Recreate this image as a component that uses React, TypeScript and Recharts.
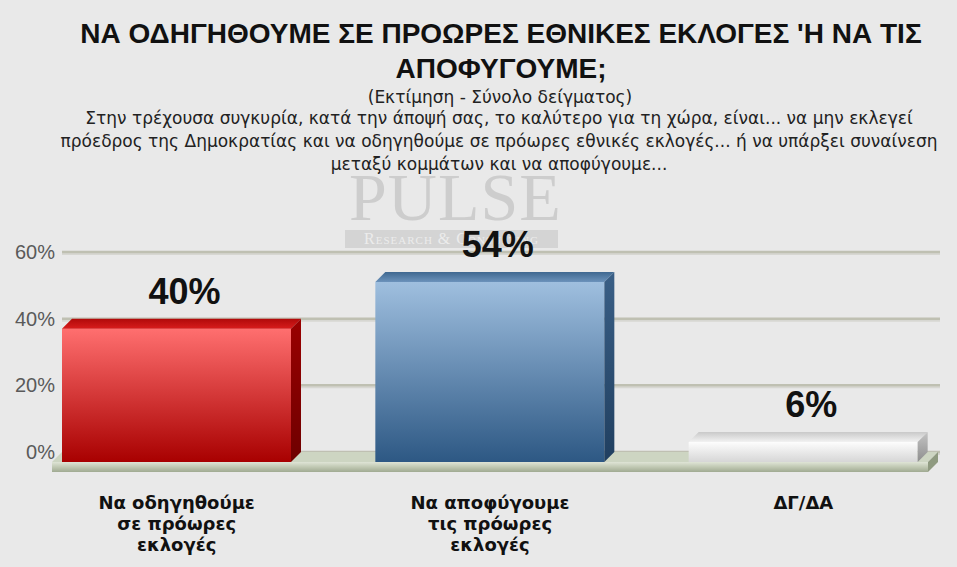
import React from 'react';
import { BarChart, Bar, XAxis, YAxis, CartesianGrid, ReferenceArea, LabelList } from 'recharts';

const categories = ['Να οδηγηθούμε σε πρόωρες εκλογές', 'Να αποφύγουμε τις πρόωρες εκλογές', 'ΔΓ/ΔΑ'];
const categoryLines = [
  ['Να οδηγηθούμε', 'σε πρόωρες', 'εκλογές'],
  ['Να αποφύγουμε', 'τις πρόωρες', 'εκλογές'],
  ['ΔΓ/ΔΑ'],
];
const values = [40, 54, 6];
const yTicks = [0, 20, 40, 60];
const titleLines = ['ΝΑ ΟΔΗΓΗΘΟΥΜΕ ΣΕ ΠΡΟΩΡΕΣ ΕΘΝΙΚΕΣ ΕΚΛΟΓΕΣ \'Η ΝΑ ΤΙΣ', 'ΑΠΟΦΥΓΟΥΜΕ;'];
const subtitle = '(Εκτίμηση - Σύνολο δείγματος)';
const questionLines = [
  'Στην τρέχουσα συγκυρία, κατά την άποψή σας, το καλύτερο για τη χώρα, είναι... να μην εκλεγεί',
  'πρόεδρος της Δημοκρατίας και να οδηγηθούμε σε πρόωρες εθνικές εκλογές... ή να υπάρξει συναίνεση',
  'μεταξύ κομμάτων και να αποφύγουμε...',
];

const palettes = [
  { frontTop: '#ff6f6f', frontBot: '#a80000', top: '#d81c1c', topBack: '#b00a0a', sideTop: '#9a0000', sideBot: '#6e0000' },
  { frontTop: '#9fbfdf', frontBot: '#2d5884', top: '#6b92bb', topBack: '#3f6890', sideTop: '#3a5f86', sideBot: '#203f60' },
  { frontTop: '#fdfdfd', frontBot: '#d6d6d6', top: '#f2f2f2', topBack: '#c9c9c9', sideTop: '#c4c4c4', sideBot: '#8e8e8e' },
];

const data = categories.map((c, i) => ({ name: c, value: values[i] }));

const D = 10;
const SANS = "'Liberation Sans', Arial, sans-serif";
const DEJAVU = "'DejaVu Sans', Verdana, sans-serif";

const Bar3D = (props: any) => {
  const { x, y, width, height, index } = props;
  const p = palettes[index % palettes.length];
  const id = `bar3d-${index}`;
  return (
    <g>
      <defs>
        <linearGradient id={`${id}-f`} x1="0" y1="0" x2="0" y2="1">
          <stop offset="0%" stopColor={p.frontTop} />
          <stop offset="100%" stopColor={p.frontBot} />
        </linearGradient>
        <linearGradient id={`${id}-t`} x1="0" y1="1" x2="0" y2="0">
          <stop offset="0%" stopColor={p.top} />
          <stop offset="100%" stopColor={p.topBack} />
        </linearGradient>
        <linearGradient id={`${id}-s`} x1="0" y1="0" x2="0" y2="1">
          <stop offset="0%" stopColor={p.sideTop} />
          <stop offset="100%" stopColor={p.sideBot} />
        </linearGradient>
      </defs>
      <rect x={x} y={y} width={width} height={height} fill={`url(#${id}-f)`} />
      <polygon
        points={`${x},${y} ${x + width},${y} ${x + width + D},${y - D} ${x + D},${y - D}`}
        fill={`url(#${id}-t)`}
      />
      <polygon
        points={`${x + width},${y} ${x + width + D},${y - D} ${x + width + D},${y + height - D} ${x + width},${y + height}`}
        fill={`url(#${id}-s)`}
      />
    </g>
  );
};

const Floor = (props: any) => {
  const { x, y, width, height } = props;
  const l = x + 32;
  const r = x + width - 32;
  return (
    <g>
      <defs>
        <linearGradient id="floor-front" x1="0" y1="0" x2="0" y2="1">
          <stop offset="0%" stopColor="#dfe4d6" />
          <stop offset="45%" stopColor="#c3cbb6" />
          <stop offset="100%" stopColor="#a0aa92" />
        </linearGradient>
      </defs>
      <polygon points={`${l},${y} ${r},${y} ${r + D},${y - D} ${l + D},${y - D}`} fill="#cdd5c2" />
      <rect x={l} y={y} width={r - l} height={height} fill="url(#floor-front)" />
      <polygon points={`${r},${y} ${r + D},${y - D} ${r + D},${y + height - D} ${r},${y + height}`} fill="#8f9a80" />
    </g>
  );
};

const GridLine = (props: any) => {
  const { x1, x2, y1 } = props;
  const yy = y1 - D;
  return (
    <g>
      <line x1={x1 + 42} x2={x2 - 20} y1={yy + 2} y2={yy + 2} stroke="#d7d7d2" strokeWidth={2} />
      <line x1={x1 + 42} x2={x2 - 20} y1={yy} y2={yy} stroke="#bfc0b2" strokeWidth={2.5} />
    </g>
  );
};

const YTick = (props: any) => {
  const { x, y, payload } = props;
  return (
    <text x={x + 37} y={y - D} dy={7} textAnchor="end" fontFamily={SANS} fontSize={20} fill="#5a5a5a">
      {`${payload.value}%`}
    </text>
  );
};

const XTick = (props: any) => {
  const { x, y, index } = props;
  const lines = categoryLines[index] || [];
  return (
    <text textAnchor="middle" fontFamily={DEJAVU} fontWeight="bold" fontSize={18} fill="#111">
      {lines.map((l, i) => (
        <tspan key={i} x={x} y={y + 39 + i * 21}>{l}</tspan>
      ))}
    </text>
  );
};

const ValueLabel = (props: any) => {
  const { x, y, width, value } = props;
  return (
    <text x={x + width / 2 + 8} y={y - 25} textAnchor="middle" fontFamily={SANS} fontWeight="bold" fontSize={36} fill="#111">
      {`${value}%`}
    </text>
  );
};

export default function App() {
  return (
    <div style={{ position: 'absolute', left: 0, top: 0, width: 957, height: 567, background: '#e9e9e9', overflow: 'hidden' }}>
      <div style={{ position: 'absolute', left: 0, top: 16, width: 1002, textAlign: 'center', fontFamily: SANS, fontWeight: 'bold', fontSize: 28, lineHeight: '35px', color: '#111' }}>
        {titleLines.map((t, i) => <div key={i}>{t}</div>)}
      </div>
      <div style={{ position: 'absolute', left: 0, top: 87, width: 1000, textAlign: 'center', fontFamily: DEJAVU, fontSize: 17, color: '#222' }}>
        {subtitle}
      </div>
      <div style={{ position: 'absolute', left: 0, top: 107, width: 998, textAlign: 'center', fontFamily: DEJAVU, fontSize: 17, lineHeight: '23px', color: '#222' }}>
        {questionLines.map((t, i) => <div key={i}>{t}</div>)}
      </div>
      <div style={{ position: 'absolute', left: 349, top: 158, fontFamily: "'Liberation Serif', serif", fontSize: 68, color: '#cdcdcd', letterSpacing: 1 }}>
        PULSE
      </div>
      <div style={{ position: 'absolute', left: 345, top: 230, width: 213, height: 18, background: '#d4d4d4', color: '#ececec', fontFamily: "'Liberation Serif', serif", fontVariant: 'small-caps', fontSize: 16, lineHeight: '18px', textAlign: 'center', letterSpacing: 1 }}>
        Research &amp; Consulting
      </div>
      <div style={{ position: 'absolute', left: 0, top: 0 }}>
        <BarChart width={957} height={567} data={data} margin={{ top: 262, right: -3, bottom: 0, left: 0 }}>
          <CartesianGrid vertical={false} horizontal={GridLine as any} />
          <XAxis dataKey="name" height={105} axisLine={false} tickLine={false} tick={XTick as any} interval={0} />
          <YAxis width={20} domain={[0, 60]} ticks={yTicks} axisLine={false} tickLine={false} tickSize={0} tick={YTick as any} />
          <ReferenceArea y1={-3} y2={0} ifOverflow="visible" shape={Floor as any} />
          <Bar dataKey="value" barSize={229} shape={Bar3D as any} isAnimationActive={false}>
            <LabelList dataKey="value" content={ValueLabel as any} />
          </Bar>
        </BarChart>
      </div>
    </div>
  );
}
